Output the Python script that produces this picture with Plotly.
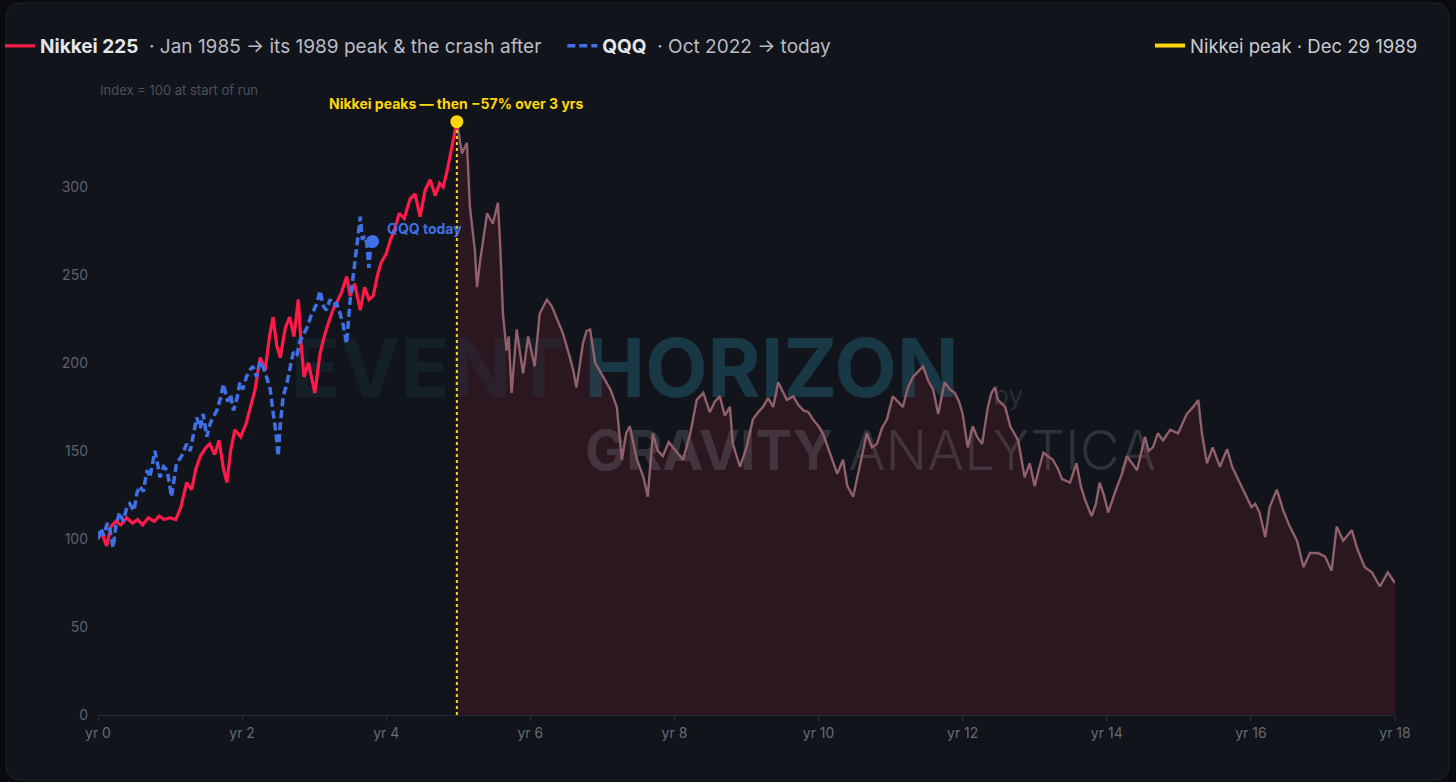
import plotly.graph_objects as go

# Nikkei 225 from Jan 1985, index = 100 at start (x = years since start of run)
nikkei_years = [
    0.00, 0.05, 0.12, 0.18, 0.25, 0.32, 0.40, 0.48, 0.55, 0.62, 0.70, 0.78, 0.85, 0.92,
    1.00, 1.08, 1.15, 1.23, 1.30, 1.36, 1.42, 1.50, 1.55, 1.62, 1.68, 1.74, 1.79, 1.84,
    1.90, 1.98, 2.06, 2.12, 2.18, 2.25, 2.32, 2.38, 2.43, 2.48, 2.53, 2.60, 2.66, 2.72,
    2.78, 2.82, 2.86, 2.92, 2.97, 3.01, 3.08, 3.14, 3.20, 3.26, 3.31, 3.38, 3.45, 3.50,
    3.56, 3.64, 3.70, 3.76, 3.82, 3.88, 3.93, 4.00, 4.06, 4.12, 4.18, 4.25, 4.33, 4.40,
    4.47, 4.54, 4.61, 4.68, 4.74, 4.79, 4.84, 4.88, 4.93, 4.98,
    5.05, 5.12, 5.16, 5.23, 5.26, 5.30, 5.35, 5.40, 5.48, 5.55, 5.58, 5.62, 5.67, 5.70,
    5.74, 5.81, 5.86, 5.90, 5.97, 6.06, 6.13, 6.23, 6.30, 6.34, 6.40, 6.45, 6.55, 6.60,
    6.64, 6.73, 6.78, 6.83, 6.90, 7.01, 7.11, 7.20, 7.27, 7.33, 7.38, 7.48, 7.57, 7.63,
    7.70, 7.77, 7.84, 7.92, 7.98, 8.05, 8.12, 8.22, 8.31, 8.40, 8.49, 8.56, 8.63, 8.70,
    8.77, 8.81, 8.91, 9.00, 9.09, 9.16, 9.23, 9.30, 9.37, 9.44, 9.50, 9.56, 9.65, 9.72,
    9.79, 9.86, 9.92, 10.00, 10.06, 10.16, 10.26, 10.34, 10.40, 10.48, 10.57, 10.67,
    10.74, 10.81, 10.88, 10.95, 11.03, 11.10, 11.17, 11.24, 11.31, 11.38, 11.45, 11.52,
    11.59, 11.66, 11.75, 11.82, 11.89, 11.95, 12.00, 12.07, 12.14, 12.20, 12.27, 12.35,
    12.40, 12.45, 12.49, 12.59, 12.66, 12.77, 12.86, 12.93, 13.00, 13.06, 13.12, 13.25,
    13.32, 13.38, 13.49, 13.58, 13.64, 13.70, 13.79, 13.85, 13.90, 13.96, 14.02, 14.11,
    14.21, 14.28, 14.35, 14.42, 14.53, 14.58, 14.64, 14.71, 14.78, 14.88, 14.99, 15.05,
    15.11, 15.20, 15.27, 15.32, 15.39, 15.47, 15.57, 15.67, 15.74, 15.82, 15.91, 16.01,
    16.06, 16.12, 16.20, 16.26, 16.36, 16.45, 16.54, 16.64, 16.73, 16.82, 16.93, 17.03,
    17.12, 17.19, 17.28, 17.40, 17.48, 17.58, 17.68, 17.79, 17.90, 18.00,
]
nikkei_index = [
    100, 104, 96, 107, 110, 108, 112, 109, 111, 108, 112, 110, 113, 111,
    112, 111, 118, 132, 128, 140, 147, 152, 154, 148, 156, 140, 132, 150,
    162, 158, 166, 175, 185, 203, 196, 215, 226, 210, 203, 220, 226, 215,
    236, 210, 192, 200, 190, 183, 205, 215, 223, 230, 234, 240, 249, 238,
    245, 230, 243, 236, 238, 250, 257, 262, 270, 276, 285, 282, 293, 296,
    283, 298, 304, 295, 302, 300, 308, 317, 326, 337,
    319, 325, 289, 264, 243, 257, 272, 285, 279, 291, 268, 228, 207, 215,
    183, 219, 205, 194, 215, 198, 228, 236, 232, 228, 222, 217, 203, 195,
    186, 211, 218, 219, 200, 192, 185, 175, 145, 160, 164, 145, 135, 124,
    160, 150, 147, 155, 152, 148, 145, 160, 179, 183, 172, 178, 181, 170,
    175, 154, 141, 152, 168, 172, 175, 180, 175, 189, 184, 179, 181, 176,
    173, 172, 168, 164, 160, 149, 137, 145, 130, 124, 141, 160,
    152, 154, 163, 168, 181, 178, 175, 186, 192, 195, 198, 190,
    185, 171, 189, 185, 183, 178, 171, 152, 164, 158, 154, 175,
    183, 186, 179, 175, 164, 156, 135, 143, 130, 140, 149, 145,
    140, 134, 132, 143, 130, 122, 113, 120, 132, 125, 115, 126,
    137, 147, 143, 139, 158, 150, 152, 160, 156, 162, 160, 166,
    171, 175, 179, 160, 143, 152, 141, 151, 141, 134, 126, 118,
    120, 115, 101, 118, 128, 116, 107, 99, 84, 92, 92, 90,
    82, 107, 99, 105, 94, 84, 81, 73, 81, 75,
]

# QQQ from Oct 2022 to today, index = 100 at start
qqq_years = [
    0.00, 0.04, 0.08, 0.13, 0.17, 0.21, 0.25, 0.30, 0.35, 0.40, 0.44, 0.50, 0.54, 0.58,
    0.63, 0.68, 0.72, 0.76, 0.79, 0.83, 0.86, 0.91, 0.96, 1.02, 1.06, 1.09, 1.16, 1.23,
    1.28, 1.33, 1.37, 1.42, 1.46, 1.51, 1.56, 1.61, 1.65, 1.70, 1.74, 1.80, 1.84, 1.88,
    1.93, 1.97, 2.01, 2.06, 2.11, 2.15, 2.20, 2.25, 2.29, 2.34, 2.39, 2.43, 2.47, 2.50,
    2.53, 2.57, 2.62, 2.66, 2.71, 2.76, 2.80, 2.85, 2.90, 2.95, 3.00, 3.04, 3.08, 3.13,
    3.17, 3.22, 3.27, 3.31, 3.36, 3.40, 3.45, 3.48, 3.50, 3.55, 3.59, 3.62, 3.64, 3.67,
    3.70, 3.73, 3.76, 3.78, 3.81,
]
qqq_index = [
    100, 106, 102, 109, 104, 95, 108, 115, 110, 118, 120, 116, 126, 130,
    127, 139, 135, 144, 150, 142, 135, 141, 139, 124, 135, 143, 147, 154,
    150, 162, 169, 163, 171, 158, 166, 170, 173, 180, 188, 178, 182, 173,
    180, 189, 185, 192, 196, 198, 192, 201, 198, 192, 185, 172, 160, 147,
    165, 181, 188, 196, 206, 204, 212, 216, 220, 226, 231, 234, 241, 232,
    230, 236, 233, 234, 228, 222, 211, 225, 236, 252, 266, 274, 283, 270,
    272, 268, 254, 264, 269,
]

y_ticks = [0, 50, 100, 150, 200, 250, 300]
x_ticks = list(range(0, 19, 2))
x_tick_labels = [f"yr {t}" for t in x_ticks]

RED = "#ff1a4a"
BLUE = "#4070e6"
GOLD = "#ffd60a"
BG = "#11141b"
PAGE = "#0a0b0e"
FONT = "Inter, Roboto, sans-serif"
W, H = 1456, 782
L, R, T, B = 98, 61, 90, 67

# split the Nikkei run at its peak
ip = nikkei_index.index(max(nikkei_index))
peak_t, peak_v = nikkei_years[ip], nikkei_index[ip]
crash_t, crash_v = nikkei_years[ip:], nikkei_index[ip:]

fig = go.Figure()

# crash shading
fig.add_trace(go.Scatter(x=crash_t, y=crash_v, mode="lines", fill="tozeroy",
                         fillcolor="#2a1720", line=dict(width=0),
                         showlegend=False, hoverinfo="skip"))

# faint watermark behind the lines
fig.add_trace(go.Scatter(
    x=[7.31, 12.63, 10.72], y=[192, 180, 147], mode="text",
    text=["<b><span style='color:rgba(40,80,95,0.42)'>EVENT</span> HORIZON</b>",
          "by",
          "<b>GRAVITY</b><span style='font-weight:300'> ANALYTICA</span>"],
    textfont=dict(family=FONT, size=[81, 26, 55],
                  color=["rgba(30,100,120,0.45)", "rgba(150,150,160,0.2)",
                         "rgba(160,160,170,0.22)"]),
    textposition="middle center", showlegend=False, hoverinfo="skip",
))

fig.add_trace(go.Scatter(x=crash_t, y=crash_v, mode="lines",
                         line=dict(color="#90606b", width=2.4),
                         showlegend=False, hoverinfo="skip"))

fig.add_trace(go.Scatter(
    x=nikkei_years[:ip + 1], y=nikkei_index[:ip + 1], mode="lines",
    line=dict(color=RED, width=3.2),
    name="<b>Nikkei 225</b>\u00a0\u00a0<span style='color:#b9bdc5'>· Jan 1985 → its 1989 peak &amp; the crash after</span>\u00a0\u00a0\u00a0",
))

fig.add_trace(go.Scatter(
    x=qqq_years, y=qqq_index, mode="lines",
    line=dict(color=BLUE, width=3.5, dash="8px,4px"),
    name="<b>QQQ</b>\u00a0\u00a0<span style='color:#b9bdc5'>· Oct 2022 → today</span>",
))
fig.add_trace(go.Scatter(x=[qqq_years[-1]], y=[qqq_index[-1]], mode="markers",
                         marker=dict(color=BLUE, size=13), showlegend=False))

# Nikkei peak marker + drop line
fig.add_trace(go.Scatter(x=[peak_t, peak_t], y=[0, peak_v], mode="lines",
                         line=dict(color=GOLD, width=2, dash="dot"), showlegend=False))
fig.add_trace(go.Scatter(x=[peak_t], y=[peak_v], mode="markers",
                         marker=dict(color=GOLD, size=13), showlegend=False))
fig.add_trace(go.Scatter(x=[None], y=[None], mode="lines",
                         line=dict(color=GOLD, width=4),
                         name="<span style='color:#c9ccd2'>Nikkei peak · Dec 29 1989</span>",
                         legend="legend2"))

for v in y_ticks[1:]:
    fig.add_hline(y=v, layer="below",
                  line=dict(color="#3a404b" if v == 100 else "#1d232e", width=1,
                            dash="dash" if v == 100 else "solid"))


# rounded card behind everything (pixel box -> paper fractions)
def px(x):
    return (x - L) / (W - L - R)


def py(y):
    return (H - B - y) / (H - T - B)


x0, x1, y0, y1, rad = px(6), px(1449), py(780), py(3), 15
rx, ry = rad / (W - L - R), rad / (H - T - B)
card = (f"M {x0 + rx},{y1} L {x1 - rx},{y1} Q {x1},{y1} {x1},{y1 - ry} "
        f"L {x1},{y0 + ry} Q {x1},{y0} {x1 - rx},{y0} L {x0 + rx},{y0} "
        f"Q {x0},{y0} {x0},{y0 + ry} L {x0},{y1 - ry} Q {x0},{y1} {x0 + rx},{y1} Z")
fig.add_shape(type="path", path=card, xref="paper", yref="paper", layer="below",
              fillcolor=BG, line=dict(color="#1f232b", width=1))

fig.add_annotation(x=peak_t, y=peak_v, text="<b>Nikkei peaks — then −57% over 3 yrs</b>",
                   showarrow=False, yanchor="bottom", yshift=8,
                   font=dict(family=FONT, size=14, color=GOLD))
fig.add_annotation(x=qqq_years[-1], y=qqq_index[-1], text="<b>QQQ today</b>",
                   showarrow=False, xanchor="left", yanchor="middle", xshift=12, yshift=13,
                   font=dict(family=FONT, size=14, color=BLUE))
fig.add_annotation(xref="paper", yref="paper", x=0, y=1, text="Index = 100 at start of run",
                   showarrow=False, xanchor="left", yanchor="middle",
                   font=dict(family=FONT, size=13, color="#4b515b"))

fig.update_layout(
    width=W, height=H,
    margin=dict(l=L, r=R, t=T, b=B),
    paper_bgcolor=PAGE, plot_bgcolor="rgba(0,0,0,0)",
    font=dict(family=FONT, color="#5d636e", size=14),
    legend=dict(orientation="h", xref="container", yref="container",
                x=0.0, y=1 - 46 / H, xanchor="left", yanchor="middle",
                font=dict(family=FONT, size=19, color="#e4e6ea"),
                bgcolor="rgba(0,0,0,0)", itemclick=False),
    legend2=dict(orientation="h", xref="container", yref="container",
                 x=1423 / W, y=1 - 46 / H, xanchor="right", yanchor="middle",
                 font=dict(family=FONT, size=18.5, color="#c9ccd2"),
                 bgcolor="rgba(0,0,0,0)"),
    xaxis=dict(range=[0, 18], tickvals=x_ticks, ticktext=x_tick_labels,
               showgrid=False, zeroline=False, showline=True, linecolor="#262c38",
               ticks="outside", ticklen=5, tickcolor="#2b313c",
               tickfont=dict(size=14, color="#656b76")),
    yaxis=dict(range=[0, 355], tickvals=y_ticks, showgrid=False, zeroline=False,
               ticks="", ticklabelstandoff=9, tickfont=dict(size=14, color="#5d636e")),
    hovermode=False,
)

fig.write_html("out.html", config={"displayModeBar": False}, post_script=(
    "document.body.style.margin='0';"
    "document.body.style.overflow='hidden';"
    f"document.body.style.background='{PAGE}';"
))
